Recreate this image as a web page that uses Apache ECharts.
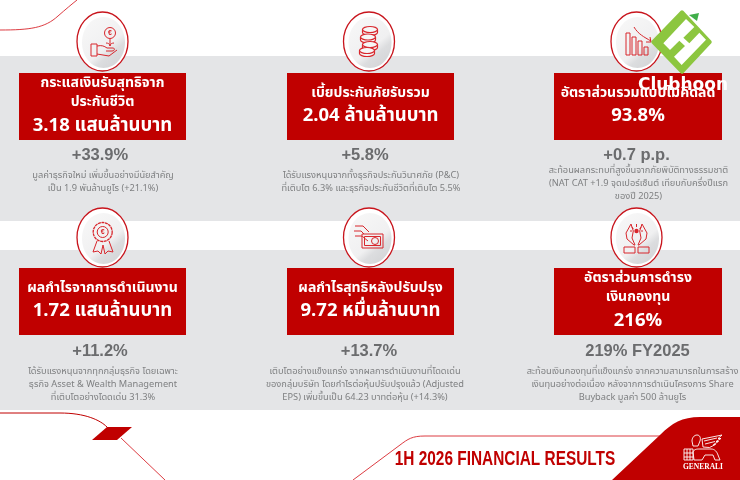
<!DOCTYPE html>
<html><head><meta charset="utf-8">
<style>html,body{margin:0;padding:0;background:#fff}#c{width:740px;height:480px}</style>
<script src="https://cdn.jsdelivr.net/npm/echarts@6/dist/echarts.min.js"></script>
</head><body><div id="c"></div>
<script>
const titles = [
  ["กระแสเงินรับสุทธิจาก","ประกันชีวิต"],
  ["เบี้ยประกันภัยรับรวม"],
  ["อัตราส่วนรวมแบบไม่คิดลด"],
  ["ผลกำไรจากการดำเนินงาน"],
  ["ผลกำไรสุทธิหลังปรับปรุง"],
  ["อัตราส่วนการดำรง","เงินกองทุน"]
];
const values = ["3.18 แสนล้านบาท","2.04 ล้านล้านบาท","93.8%","1.72 แสนล้านบาท","9.72 หมื่นล้านบาท","216%"];
const changes = ["+33.9%","+5.8%","+0.7 p.p.","+11.2%","+13.7%","219% FY2025"];
const notes = [
  ["มูลค่าธุรกิจใหม่ เพิ่มขึ้นอย่างมีนัยสำคัญ","เป็น 1.9 พันล้านยูโร (+21.1%)"],
  ["ได้รับแรงหนุนจากทั้งธุรกิจประกันวินาศภัย (P&C)","ที่เติบโต 6.3% และธุรกิจประกันชีวิตที่เติบโต 5.5%"],
  ["สะท้อนผลกระทบที่สูงขึ้นจากภัยพิบัติทางธรรมชาติ","(NAT CAT +1.9 จุดเปอร์เซ็นต์ เทียบกับครึ่งปีแรก","ของปี 2025)"],
  ["ได้รับแรงหนุนจากทุกกลุ่มธุรกิจ โดยเฉพาะ","ธุรกิจ Asset & Wealth Management","ที่เติบโตอย่างโดดเด่น 31.3%"],
  ["เติบโตอย่างแข็งแกร่ง จากผลการดำเนินงานที่โดดเด่น","ของกลุ่มบริษัท โดยกำไรต่อหุ้นปรับปรุงแล้ว (Adjusted","EPS) เพิ่มขึ้นเป็น 64.23 บาทต่อหุ้น (+14.3%)"],
  ["สะท้อนเงินกองทุนที่แข็งแกร่ง จากความสามารถในการสร้าง","เงินทุนอย่างต่อเนื่อง หลังจากการดำเนินโครงการ Share","Buyback มูลค่า 500 ล้านยูโร"]
];
const footerTitle = "1H 2026 FINANCIAL RESULTS";
const brandName = "GENERALI";
const watermark = "Clubhoon";

const RED="#c00000", GREY="#6b6c6e", NOTE="#7f8082", BAND="#e4e5e7";
const FONT='"Noto Sans Thai","Noto Sans","DejaVu Sans","Liberation Sans",sans-serif';
const colX=[[19,186],[287,454],[554,722]];
const rowBox=[[73,140],[268,335]];
const circleX=[102.5,369,636.5], circleY=[41.5,237.5];
const changeX=[100,365,636.5,100,369,637.5];
const noteX=[103,371,638.5,103,365,632.5];
const noteY=[176,176,171,372,372,372];
const changeY=[155,155,155,351,351,351];

const g=[];
let pid=0;
const rect=(x,y,w,h,fill,z)=>g.push({type:'rect',shape:{x,y,width:w,height:h},style:{fill},z:z||1});
const text=(x,y,t,font,fill,z,extra)=>g.push({type:'text',x,y,z:z||5,style:Object.assign({text:t,font,fill,align:'center',verticalAlign:'middle'},extra||{})});
const path=(d,style,z,x,y,s)=>{
  const name='sp'+(pid++);
  echarts.graphic.registerShape(name,echarts.graphic.extendPath(d,{}));
  g.push({type:name,z:z||4,x:x||0,y:y||0,scaleX:s||1,scaleY:s||1,style});
};

rect(0,56,740,165,BAND);
rect(0,250,740,160,BAND);

for(let i=0;i<6;i++){
  const c=i%3,r=i<3?0:1,[x0,x1]=colX[c],[y0,y1]=rowBox[r],cx=(x0+x1)/2;
  rect(x0,y0,x1-x0,y1-y0,RED,2);
  const tf='bold 14px '+FONT, vf='bold 18.5px '+FONT;
  if(titles[i].length===2){
    text(cx,y0+11.5,titles[i][0],tf,'#fff');
    text(cx,y0+30,titles[i][1],tf,'#fff');
    text(cx,y0+54,values[i],vf,'#fff');
  }else{
    text(cx,y0+21,titles[i][0],tf,'#fff');
    text(cx,y0+44,values[i],vf,'#fff');
  }
  text(changeX[i],changeY[i],changes[i],'bold 16.5px "Liberation Sans",Arial,sans-serif',GREY);
  notes[i].forEach((l,k)=>text(noteX[i],noteY[i]+k*13,l,'9.25px '+FONT,NOTE));
  const ex=circleX[c],ey=circleY[r];
  g.push({type:'ellipse',z:3,shape:{cx:ex,cy:ey,rx:25.5,ry:29.5},style:{fill:'#fff',stroke:'#c8141c',lineWidth:1.3}});
  g.push({type:'ellipse',z:3,shape:{cx:ex+1,cy:ey+1,rx:21.5,ry:25.5},style:{
    fill:{type:'linear',x:0,y:0,x2:1,y2:1,colorStops:[{offset:0,color:'#f8f8f8'},{offset:.58,color:'#f0f0f1'},{offset:.7,color:'#dcdddf'},{offset:1,color:'#d0d1d3'}]}}});
}

const L={fill:'none',stroke:'#d8262c',lineWidth:1,lineJoin:'round'};
// icon 1: hand + coin
g.push({type:'circle',z:4,shape:{cx:110,cy:33,r:5.5},style:L});
path('M110 39V46M106 43c2 0 4 1 4 3c0-2 2-3 4-3M91 44h6v12h-6zM97 46c5-1 7 0 10 2h6c2 0 2 3-1 3h-6M97 54l12 2l8-6',L);
text(110,33,'€','bold 7px "Liberation Sans",sans-serif','#d8262c',5);
// icon 2: coins
[[370,29.5],[368,37],[370,44.5],[367,50.5]].forEach(p=>{
  path(`M${p[0]-7.5} ${p[1]}v3a7.5 3 0 0 0 15 0v-3`,{fill:'#f6f6f6',stroke:'#d8262c',lineWidth:1.2},4);
  g.push({type:'ellipse',z:4,shape:{cx:p[0],cy:p[1],rx:7.5,ry:3},style:{fill:'#f6f6f6',stroke:'#d8262c',lineWidth:1.2}});
});
// icon 3: bars + arrow
[[626,33,3,22],[632,37,3,18],[638,41,3,14],[644,47,3,8]].forEach(b=>g.push({type:'rect',z:4,shape:{x:b[0],y:b[1],width:b[2]+1,height:b[3]},style:L}));
path('M634 27c4 7 10 10 17 14M650 37l1 5l-5 0',L);
// icon 4: rosette
g.push({type:'circle',z:4,shape:{cx:102.7,cy:232,r:9.5},style:Object.assign({},L,{lineDash:[3,.6],lineWidth:1.3})});
g.push({type:'circle',z:4,shape:{cx:102.7,cy:232,r:5.5},style:L});
text(102.7,232,'€','bold 7px "Liberation Sans",sans-serif','#d8262c',5);
path('M97 241l-4 11l5-1l3 3l2-9l2 9l3-3l5 1l-4-11',L);
// icon 5: note + hand
g.push({type:'rect',z:4,shape:{x:362,y:234,width:21,height:14},style:L});
g.push({type:'rect',z:4,shape:{x:364.5,y:236.5,width:16,height:9},style:L});
g.push({type:'circle',z:4,shape:{cx:375,cy:241,r:3.5},style:L});
path('M355 226h8l6 6M354 231h7l3 3M355 236h6c2 0 4 3 7 5',L);
// icon 6: hands
path('M631 224L626 233L627 239L634 245L635 245L632 238L633.3 231ZM642 224L647 233L646 239L639 245L638 245L641 238L639.7 231Z',L);
g.push({type:'rect',z:4,shape:{x:624,y:247,width:11,height:6},style:L});
g.push({type:'rect',z:4,shape:{x:638,y:247,width:11,height:6},style:L});
g.push({type:'circle',z:4,shape:{cx:636.5,cy:231,r:2.2},style:{fill:'#d8262c'}});
path('M636.5 224v3M631.5 227l2 1.5M641.5 227l-2 1.5M630 231h2M641 231h2',L);

// decorative outlines
const curve={fill:'none',stroke:'#d8262c',lineWidth:.9};
path('M0 30C30 30 45 28 58 16C66 9 72 4 77 0',curve,2);
path('M0 413H60C85 413 100 420 107 427',{fill:'none',stroke:RED,lineWidth:1},2);
path('M92 440L107 427H132L117 440Z',{fill:RED},3);
path('M121 438L165 480',curve,2);
path('M353 480L400 445C408 439 412 436 425 436H662',curve,2);
// footer
path('M612 480L660 435C672 423 682 417 700 417H740V480Z',{fill:RED},3);
g.push({type:'text',x:505,y:459,scaleX:.77,z:5,style:{text:footerTitle,font:'bold 20px "Liberation Sans",sans-serif',fill:RED,align:'center',verticalAlign:'middle'}});
// lion
const W={fill:'none',stroke:'#fff',lineWidth:.9,lineJoin:'round'};
path('M684 449h9v11h-9zM687 449v11M690 449v11M684 453h9M684 457h9',W,5);
path('M693 452c1-3 4-3 7-3h11c4 0 6 3 7 6l2 5h-5l-2-5h-8l-3 5h-8zM692 441c0-3 2-6 5-6c3 0 4 3 3 6l-2 5h-5z',W,5);
path('M703 447l-1-8l20-4l-4 3.5l3 0l-5 3l2.5 0l-5 3l2 0l-6 3zM704 441l13-3M705 444l10-2.5',W,5);
text(703,467,brandName,'bold 7.5px "Liberation Serif",serif','#fff',5);

// watermark
path('M682 12L710 42L682 72L653 42Z',{fill:'#8cc63f',stroke:'#8cc63f',lineWidth:3.5,lineJoin:'round'},8);
path('M190 130L258 57L283 81L250 113L268 130L298 98L318 119L245 195L222 170L255 138L238 122L210 150Z',{fill:'#fff'},9,600,0,1/3);
path('M689 15L699 13L697 21Z',{fill:'#3fae49'},9);
text(683,86,watermark,'bold 17px "DejaVu Sans",sans-serif','#ffffff',10);

const chart=echarts.init(document.getElementById('c'),null,{renderer:'canvas'});
chart.setOption({animation:false,backgroundColor:'#fff',graphic:{elements:g}});
</script></body></html>
